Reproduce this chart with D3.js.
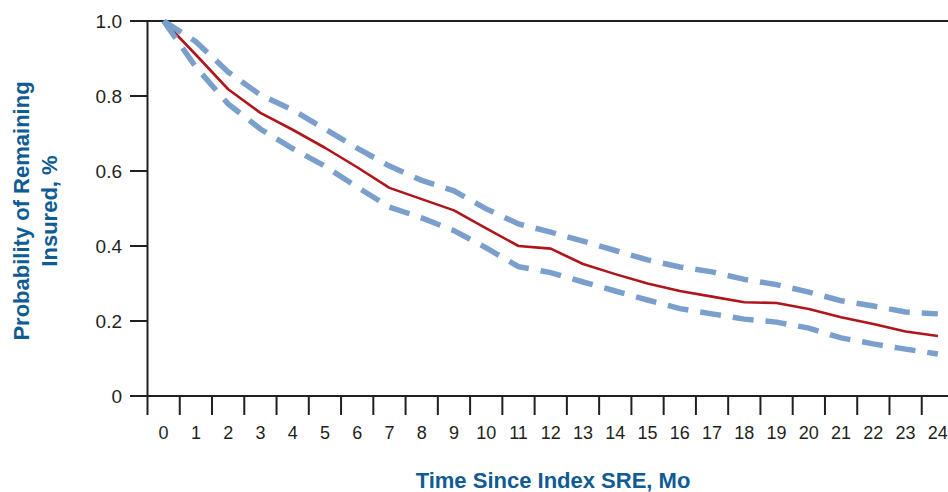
<!DOCTYPE html>
<html><head><meta charset="utf-8">
<script src="https://cdn.jsdelivr.net/npm/d3@7"></script>
<style>
html,body{margin:0;padding:0;background:#fff;}
svg{display:block;font-family:"Liberation Sans",Arial,sans-serif;}
</style></head>
<body><svg id="chart" width="948" height="492"></svg>
<script>
const months = [0,1,2,3,4,5,6,7,8,9,10,11,12,13,14,15,16,17,18,19,20,21,22,23,24];
const estimate = [1.0,0.91,0.818,0.755,0.71,0.662,0.61,0.555,0.525,0.495,0.447,0.40,0.393,0.352,0.325,0.30,0.28,0.265,0.25,0.248,0.232,0.21,0.192,0.172,0.16];
const upperCI = [1.0,0.945,0.864,0.803,0.763,0.712,0.661,0.613,0.575,0.547,0.499,0.459,0.437,0.413,0.388,0.363,0.344,0.331,0.311,0.297,0.277,0.254,0.24,0.224,0.219];
const lowerCI = [1.0,0.877,0.779,0.712,0.66,0.613,0.557,0.504,0.475,0.441,0.395,0.345,0.329,0.304,0.28,0.256,0.233,0.219,0.205,0.197,0.181,0.155,0.139,0.125,0.112];
const yTicks = [0,0.2,0.4,0.6,0.8,1.0];
const yTickLabels = ["0","0.2","0.4","0.6","0.8","1.0"];
const xTitle = "Time Since Index SRE, Mo";
const yTitleLines = ["Probability of Remaining","Insured, %"];

const svg = d3.select("#chart");
const x = d3.scaleLinear().domain([-0.5,24.5]).range([147.5,954]);
const y = d3.scaleLinear().domain([0,1]).range([396,21]);
const axisColor = "#231f20";
const blue = "#7a9fcc";
const red = "#b0151c";
const titleBlue = "#0f5b94";

// Top line (1.0) and bottom axis line
svg.append("line").attr("x1",130).attr("x2",948).attr("y1",y(1)).attr("y2",y(1))
  .attr("stroke",axisColor).attr("stroke-width",2);
svg.append("line").attr("x1",130).attr("x2",948).attr("y1",y(0)).attr("y2",y(0))
  .attr("stroke",axisColor).attr("stroke-width",2);
// Y axis line
svg.append("line").attr("x1",x(-0.5)).attr("x2",x(-0.5)).attr("y1",y(1)).attr("y2",415)
  .attr("stroke",axisColor).attr("stroke-width",2);

// Y ticks & labels
const yg = svg.append("g");
yg.selectAll("line.yt").data(yTicks).join("line").attr("class","yt")
  .attr("x1",130).attr("x2",x(-0.5)).attr("y1",d=>y(d)).attr("y2",d=>y(d))
  .attr("stroke",axisColor).attr("stroke-width",2);
yg.selectAll("text").data(yTicks).join("text")
  .attr("x",122).attr("y",d=>y(d)).attr("dy","0.35em")
  .attr("text-anchor","end").attr("font-size",19).attr("fill",axisColor)
  .text((d,i)=>yTickLabels[i]);

// X ticks at band edges, labels at band centres
const xg = svg.append("g");
xg.selectAll("line").data(months.slice(1)).join("line")
  .attr("x1",d=>x(d-0.5)).attr("x2",d=>x(d-0.5)).attr("y1",y(0)).attr("y2",415)
  .attr("stroke",axisColor).attr("stroke-width",2);
xg.selectAll("text").data(months).join("text")
  .attr("x",d=>x(d)).attr("y",439)
  .attr("text-anchor","middle").attr("font-size",18).attr("fill",axisColor)
  .text(d=>String(d));

// Lines
const line = d3.line().x((d,i)=>x(months[i])).y(d=>y(d));
svg.append("path").attr("d",line(estimate)).attr("fill","none")
  .attr("stroke",red).attr("stroke-width",2.6).attr("stroke-linejoin","round");
[upperCI,lowerCI].forEach(s=>{
  svg.append("path").attr("d",line(s)).attr("fill","none")
    .attr("stroke",blue).attr("stroke-width",5.5)
    .attr("stroke-dasharray","21,12");
});

// Titles
svg.append("text").attr("x",553).attr("y",488).attr("text-anchor","middle")
  .attr("font-size",22).attr("font-weight","bold").attr("fill",titleBlue).text(xTitle);
const yt = svg.append("text").attr("transform","translate(29,211) rotate(-90)")
  .attr("text-anchor","middle").attr("font-size",22).attr("font-weight","bold").attr("fill",titleBlue);
yt.append("tspan").attr("x",0).attr("y",0).text(yTitleLines[0]);
yt.append("tspan").attr("x",0).attr("y",28).text(yTitleLines[1]);
</script>
</body></html>
